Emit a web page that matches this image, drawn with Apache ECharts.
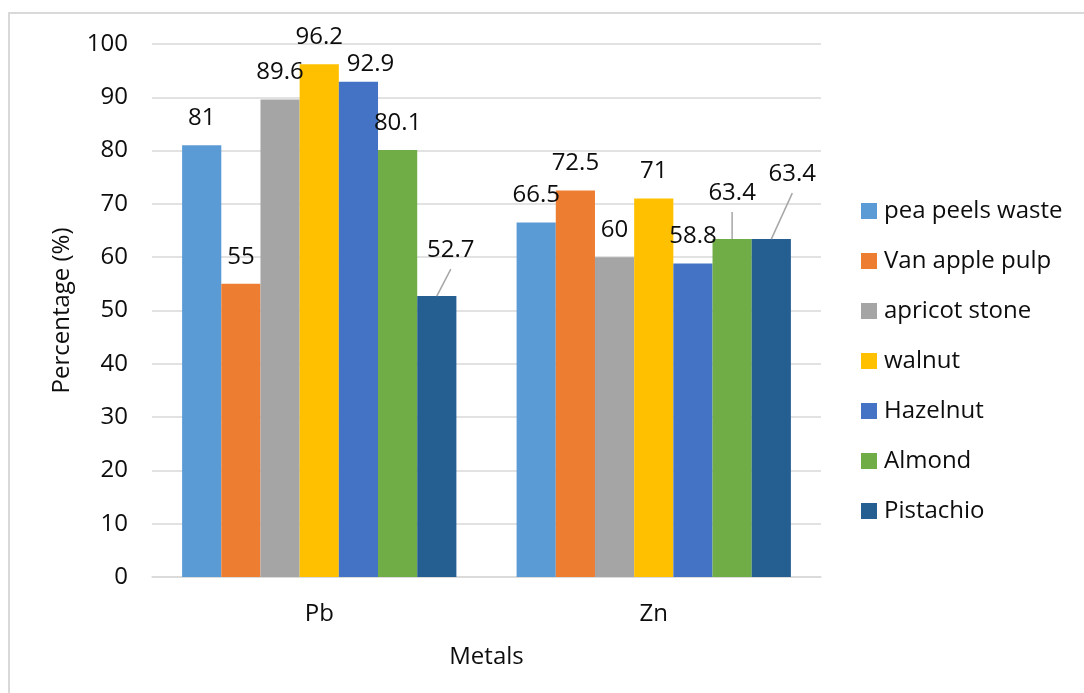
<!DOCTYPE html>
<html>
<head>
<meta charset="utf-8">
<script src="https://cdn.jsdelivr.net/npm/echarts@6/dist/echarts.min.js"></script>
<style>
html,body{margin:0;padding:0;background:#fff;}
#chart{width:1084px;height:693px;}
</style>
</head>
<body>
<div id="chart"></div>
<script>
const categories = ['Pb', 'Zn'];
const seriesNames = ['pea peels waste', 'Van apple pulp', 'apricot stone', 'walnut', 'Hazelnut', 'Almond', 'Pistachio'];
const peaPeelsWaste = [81, 66.5];
const vanApplePulp = [55, 72.5];
const apricotStone = [89.6, 60];
const walnut = [96.2, 71];
const hazelnut = [92.9, 58.8];
const almond = [80.1, 63.4];
const pistachio = [52.7, 63.4];
const yTicks = [0, 10, 20, 30, 40, 50, 60, 70, 80, 90, 100];

const seriesValues = [peaPeelsWaste, vanApplePulp, apricotStone, walnut, hazelnut, almond, pistachio];
const colors = ['#5B9BD5', '#ED7D31', '#A5A5A5', '#FFC000', '#4472C4', '#70AD47', '#255E91'];
const FONT = 'Open Sans';
const FS = 24;
const TXT = '#0d0d0d';

// label nudges (layout only): key "series-dataIndex"
const labelNudge = {
  '4-0': {dx: 12, dy: 9},
  '6-0': {dx: 14, dy: -19},
  '5-1': {dx: 0, dy: -19},
  '6-1': {dx: 21, dy: -38}
};
// which nudged labels get a leader line
const guides = ['6-0', '5-1', '6-1'];

const chart = echarts.init(document.getElementById('chart'), null, {renderer: 'canvas'});

const series = seriesNames.map((name, si) => ({
  name: name,
  type: 'bar',
  data: seriesValues[si],
  barGap: '0%',
  barCategoryGap: '18%',
  itemStyle: {color: colors[si]},
  label: {
    show: true,
    position: 'top',
    distance: 15,
    color: TXT,
    fontFamily: FONT,
    fontSize: FS
  },
  labelLayout: function (p) {
    const n = labelNudge[si + '-' + p.dataIndex];
    return n ? {dx: n.dx, dy: n.dy} : {};
  }
}));

const borderGraphics = [
  {id: 'bTop', type: 'line', shape: {x1: 8, y1: 13, x2: 1084, y2: 13}, style: {stroke: '#d9d9d9', lineWidth: 2}, silent: true},
  {id: 'bLeft', type: 'line', shape: {x1: 9, y1: 13, x2: 9, y2: 693}, style: {stroke: '#d9d9d9', lineWidth: 2}, silent: true}
];

chart.setOption({
  animation: false,
  backgroundColor: '#ffffff',
  color: colors,
  textStyle: {fontFamily: FONT},
  graphic: borderGraphics,
  grid: {left: 152, right: 263, top: 44, bottom: 116, containLabel: false},
  legend: {
    orient: 'vertical',
    left: 861,
    top: 199,
    padding: 0,
    itemWidth: 16,
    itemHeight: 16,
    itemGap: 26,
    icon: 'rect',
    data: seriesNames,
    textStyle: {fontFamily: FONT, fontSize: FS, color: TXT, padding: [0, 0, 0, 2]}
  },
  xAxis: {
    type: 'category',
    data: categories,
    name: 'Metals',
    nameLocation: 'middle',
    nameGap: 68,
    nameTextStyle: {fontFamily: FONT, fontSize: FS, color: TXT},
    axisLine: {show: true, lineStyle: {color: '#d9d9d9', width: 1.5}},
    axisTick: {show: false},
    axisLabel: {fontFamily: FONT, fontSize: FS, color: TXT, margin: 25}
  },
  yAxis: {
    type: 'value',
    min: yTicks[0],
    max: yTicks[yTicks.length - 1],
    interval: 10,
    name: 'Percentage (%)',
    nameLocation: 'middle',
    nameGap: 78,
    nameRotate: 90,
    nameTextStyle: {fontFamily: FONT, fontSize: FS, color: TXT},
    axisLine: {show: false},
    axisTick: {show: false},
    splitLine: {show: true, lineStyle: {color: '#d9d9d9', width: 1.5}},
    axisLabel: {fontFamily: FONT, fontSize: FS, color: TXT, margin: 24}
  },
  series: series
});

// leader lines: from the bar's top centre (library layout) to just under the moved label
const guideGraphics = guides.map(key => {
  const [si, di] = key.split('-').map(Number);
  const lay = chart.getModel().getSeriesByIndex(si).getData().getItemLayout(di);
  const cx = lay.x + lay.width / 2;
  const top = Math.min(lay.y, lay.y + lay.height);
  const n = labelNudge[key];
  return {
    id: 'guide' + key, type: 'line', silent: true, z: 10,
    shape: {x1: cx, y1: top, x2: cx + n.dx, y2: top + n.dy - 8},
    style: {stroke: '#a6a6a6', lineWidth: 1.5}
  };
});
chart.setOption({graphic: borderGraphics.concat(guideGraphics)});
</script>
</body>
</html>
